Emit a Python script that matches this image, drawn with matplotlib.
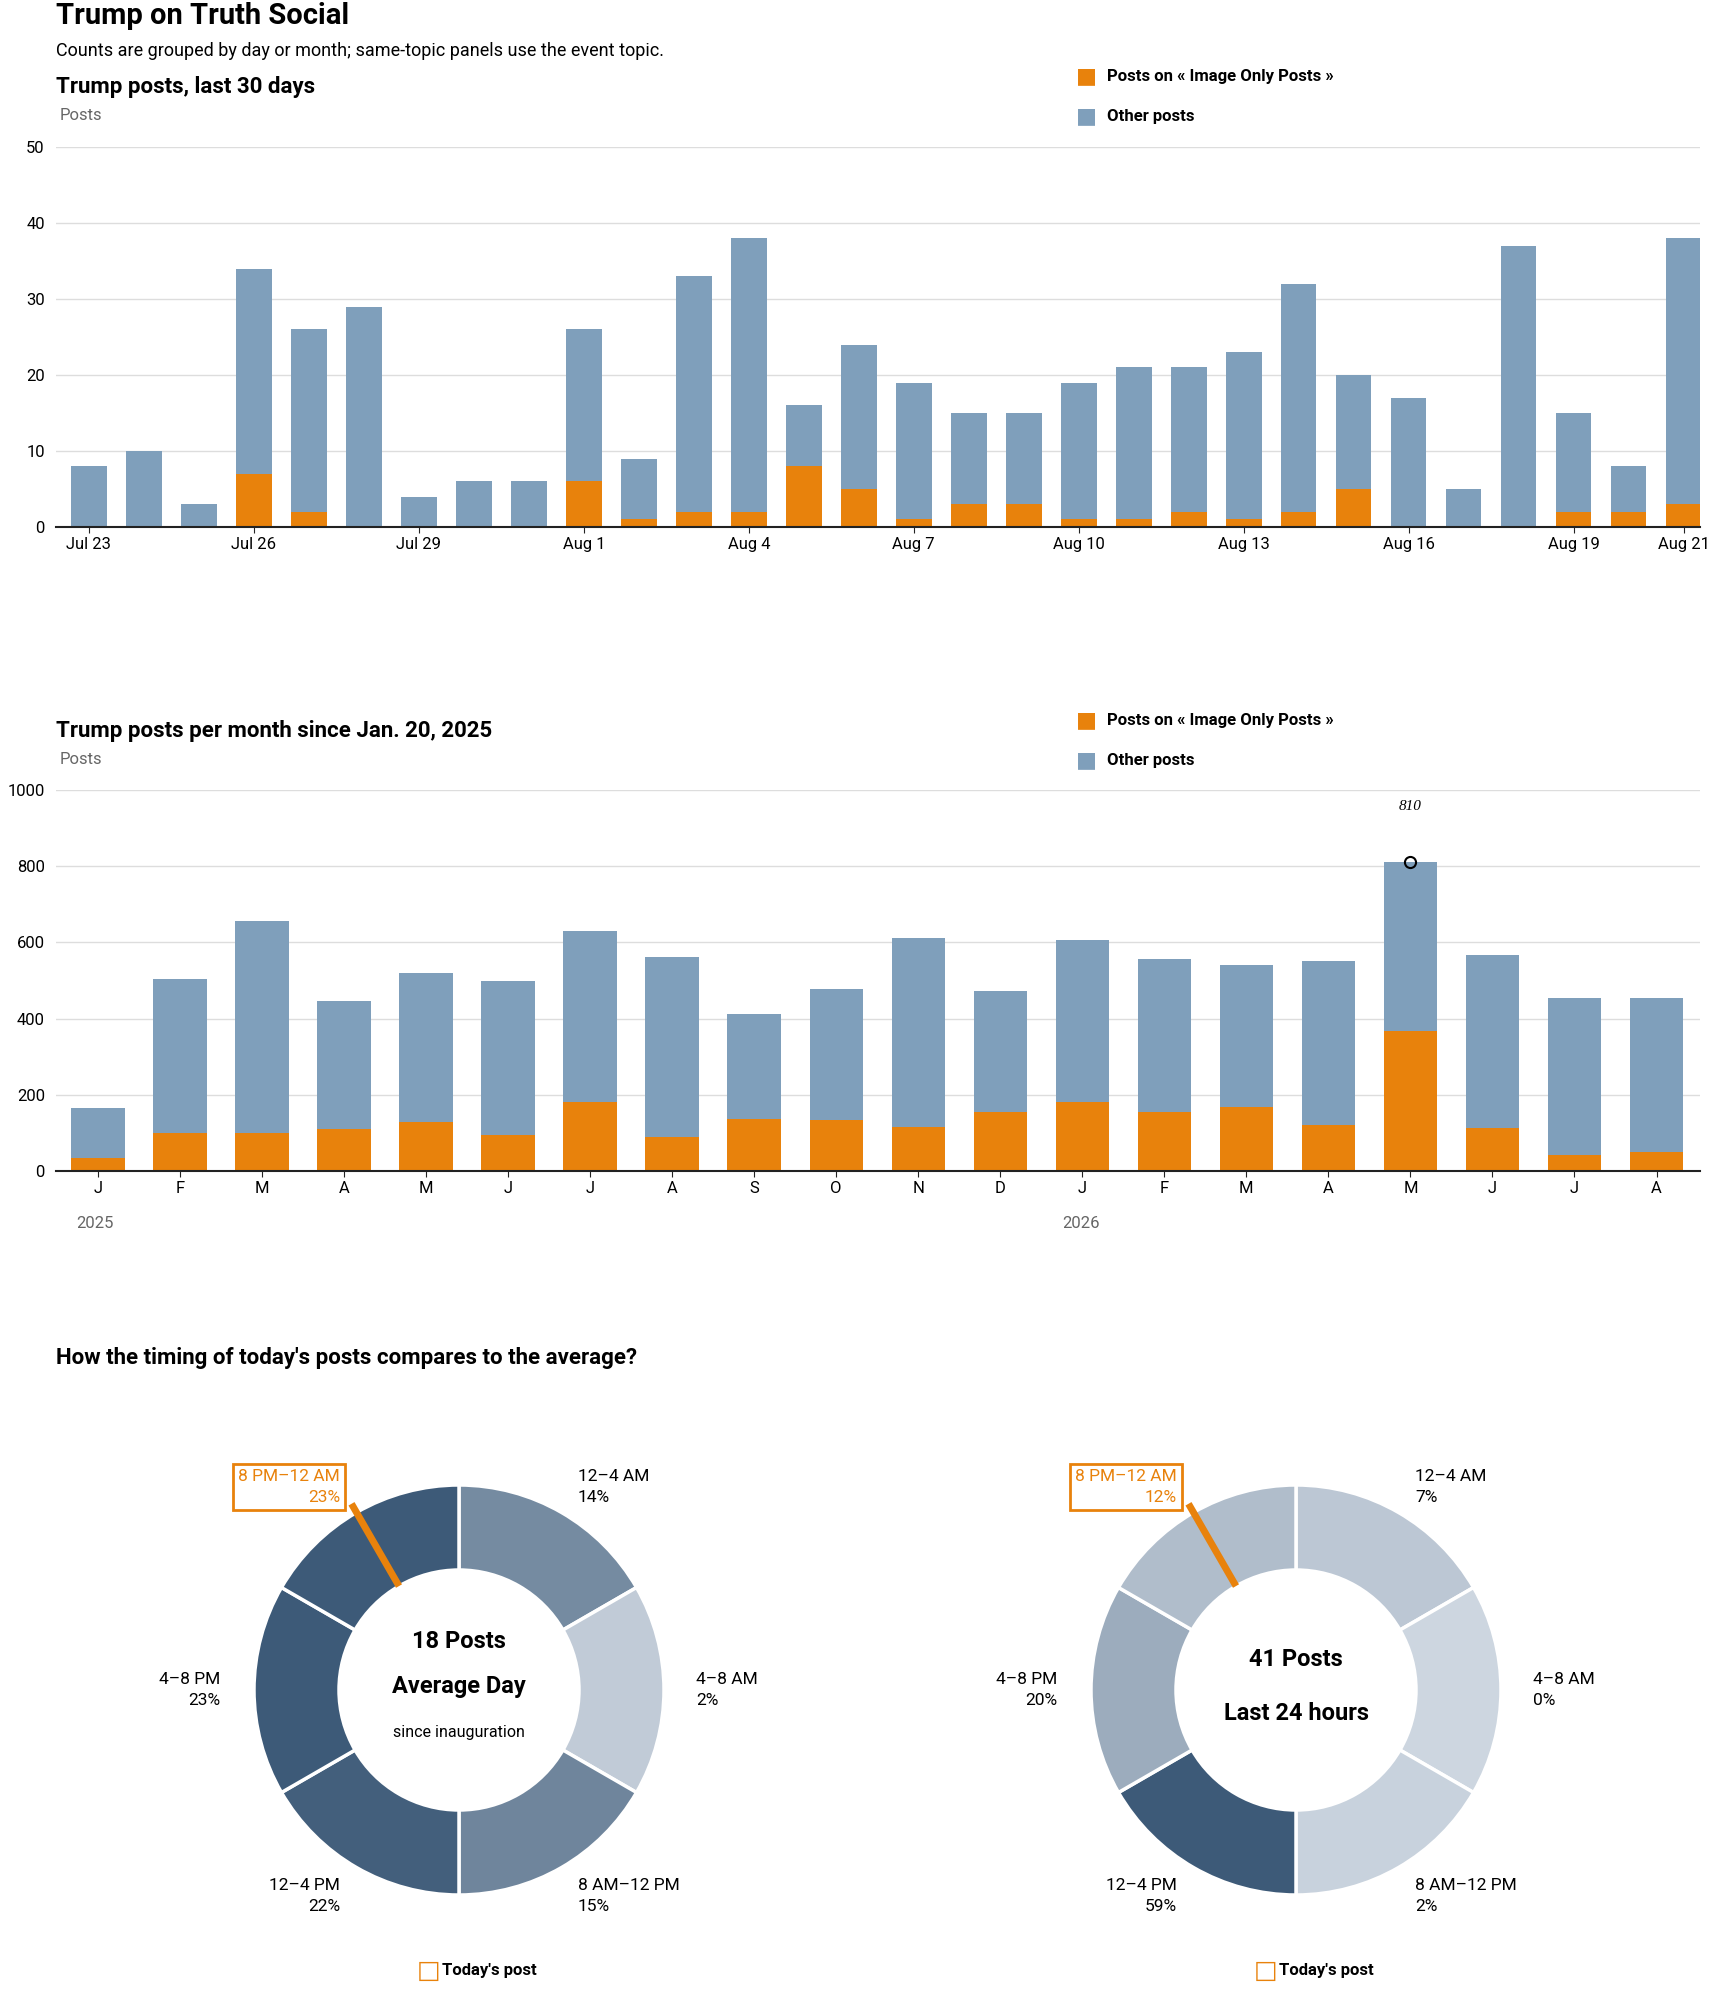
import numpy as np
import matplotlib
matplotlib.use("Agg")
import matplotlib.pyplot as plt
from matplotlib.colors import LinearSegmentedColormap

ORANGE = "#e8820c"
BLUE = "#7f9fbb"
W, H = 1710, 1993

# last 30 days
day_labels = ["Jul 23", "Jul 24", "Jul 25", "Jul 26", "Jul 27", "Jul 28", "Jul 29", "Jul 30", "Jul 31",
              "Aug 1", "Aug 2", "Aug 3", "Aug 4", "Aug 5", "Aug 6", "Aug 7", "Aug 8", "Aug 9", "Aug 10",
              "Aug 11", "Aug 12", "Aug 13", "Aug 14", "Aug 15", "Aug 16", "Aug 17", "Aug 18", "Aug 19",
              "Aug 20", "Aug 21"]
day_total = [8, 10, 3, 34, 26, 29, 4, 6, 6, 26, 9, 33, 38, 16, 24, 19, 15, 15, 19, 21, 21, 23, 32, 20,
             17, 5, 37, 15, 8, 38]
day_topic = [0, 0, 0, 7, 2, 0, 0, 0, 0, 6, 1, 2, 2, 8, 5, 1, 3, 3, 1, 1, 2, 1, 2, 5, 0, 0, 0, 2, 2, 3]
day_ticks = [0, 3, 6, 9, 12, 15, 18, 21, 24, 27, 29]

# per month
month_labels = ["J", "F", "M", "A", "M", "J", "J", "A", "S", "O", "N", "D",
                "J", "F", "M", "A", "M", "J", "J", "A"]
month_total = [165, 505, 655, 447, 520, 500, 630, 562, 413, 478, 612, 472,
               606, 557, 540, 550, 810, 567, 453, 453]
month_topic = [35, 100, 100, 110, 128, 95, 180, 88, 137, 133, 115, 155,
               180, 155, 167, 120, 367, 112, 42, 50]

# time of day
slots = ["12–4 AM", "4–8 AM", "8 AM–12 PM", "12–4 PM", "4–8 PM", "8 PM–12 AM"]
avg_pct = [14, 2, 15, 22, 23, 23]
today_pct = [7, 0, 2, 59, 20, 12]

plt.rcParams['font.family'] = ['Roboto', 'DejaVu Sans']
fig = plt.figure(figsize=(W / 100, H / 100), dpi=100)


def ft(x, y, s, **kw):
    fig.text(x / W, 1 - y / H, s, **kw)


def style(ax):
    for s in ["top", "right", "left"]:
        ax.spines[s].set_visible(False)
    ax.spines["bottom"].set_color("#222222")
    ax.spines["bottom"].set_linewidth(1.5)
    ax.grid(axis="y", color="#dddddd", lw=1)
    ax.set_axisbelow(True)
    ax.tick_params(axis="y", length=0, labelsize=12, pad=8)
    ax.tick_params(axis="x", length=4, labelsize=12, color="#222222")


def legend(y):
    ft(1076, y, "■", fontsize=16, color=ORANGE, va="center")
    ft(1107, y, "Posts on « Image Only Posts »", fontsize=12, weight="bold", va="center")
    ft(1076, y + 40, "■", fontsize=16, color=BLUE, va="center")
    ft(1107, y + 40, "Other posts", fontsize=12, weight="bold", va="center")


ft(56, 16, "Trump on Truth Social", fontsize=21, weight="bold", va="center")
ft(56, 51, "Counts are grouped by day or month; same-topic panels use the event topic.",
   fontsize=13, va="center")

# daily chart
ax1 = fig.add_axes([56 / W, 1 - 527 / H, 1644 / W, 380 / H])
x = np.arange(len(day_total))
ax1.bar(x, day_total, width=0.65, color=BLUE)
ax1.bar(x, day_topic, width=0.65, color=ORANGE)
ax1.set_xlim(-0.6, 29.3)
ax1.set_ylim(0, 50)
ax1.set_yticks(range(0, 51, 10))
ax1.set_xticks(day_ticks)
ax1.set_xticklabels([day_labels[i] for i in day_ticks])
style(ax1)
ft(56, 87, "Trump posts, last 30 days", fontsize=16, weight="bold", va="center")
ft(60, 115, "Posts", fontsize=12, color="#666666", va="center")
legend(77)

# monthly chart
ax2 = fig.add_axes([56 / W, 1 - 1171 / H, 1644 / W, 381 / H])
m = np.arange(len(month_total))
ax2.bar(m, month_total, width=0.65, color=BLUE)
ax2.bar(m, month_topic, width=0.65, color=ORANGE)
ax2.set_xlim(-0.51, 19.53)
ax2.set_ylim(0, 1000)
ax2.set_yticks(range(0, 1001, 200))
ax2.set_xticks(m)
ax2.set_xticklabels(month_labels)
style(ax2)
imax = int(np.argmax(month_total))
ax2.plot(imax, month_total[imax], "o", mfc="none", mec="black", mew=1.5, ms=8)
ax2.annotate(str(month_total[imax]), (imax, month_total[imax]), xytext=(0, 38),
             textcoords="offset points", ha="center", fontsize=11, style="italic",
             family="Liberation Serif")
ft(56, 731, "Trump posts per month since Jan. 20, 2025", fontsize=16, weight="bold", va="center")
ft(60, 759, "Posts", fontsize=12, color="#666666", va="center")
ft(76, 1223, "2025", fontsize=12, color="#666666", va="center")
ft(1062, 1223, "2026", fontsize=12, color="#666666", va="center")
legend(721)

# donuts
ft(56, 1358, "How the timing of today's posts compares to the average?", fontsize=16,
   weight="bold", va="center")
ax3 = fig.add_axes([0, 0, 1, 1])
ax3.set_xlim(0, W)
ax3.set_ylim(0, H)
ax3.set_aspect("equal")
ax3.axis("off")
cmap = LinearSegmentedColormap.from_list("b", ["#cdd6e0", "#3d5a78"])
R, r_in = 205, 120


def donut(cx, cy, pct, lines):
    vals = np.array(pct, float)
    cols = [cmap(v / vals.max()) for v in vals]
    ax3.pie([1] * 6, colors=cols, center=(cx, H - cy), radius=R, startangle=90,
            counterclock=False, wedgeprops=dict(width=R - r_in, edgecolor="white", linewidth=2.5),
            frame=True)
    a = np.deg2rad(330)
    p0 = (cx + r_in * np.sin(a), H - cy + r_in * np.cos(a))
    p1 = (cx + 215 * np.sin(a), H - cy + 215 * np.cos(a))
    ax3.plot([p0[0], p1[0]], [p0[1], p1[1]], color=ORANGE, lw=5, solid_capstyle="butt")
    lab = [(cx + 119, cy - 203, "left"), (cx + 237, cy, "left"), (cx + 119, cy + 206, "left"),
           (cx - 119, cy + 206, "right"), (cx - 239, cy, "right")]
    for (lx, ly, ha), s, p in zip(lab, slots, pct):
        ft(lx, ly, f"{s}\n{p}%", fontsize=12.5, ha=ha, va="center", linespacing=1.5)
    ft(cx - 119, cy - 203, f"{slots[5]}\n{pct[5]}%", fontsize=12.5, ha="right", va="center",
       color=ORANGE, linespacing=1.5,
       bbox=dict(boxstyle="square,pad=0.3", fc="white", ec=ORANGE, lw=2))
    for ly, s, fs, wt in lines:
        ft(cx, ly, s, fontsize=fs, weight=wt, ha="center", va="center")
    ft(cx - 42, 1971, "□", fontsize=18, color=ORANGE, weight="bold", va="center")
    ft(cx - 17, 1971, "Today's post", fontsize=12, weight="bold", va="center")


donut(459, 1690, avg_pct, [(1641, "18 Posts", 17, "bold"), (1686, "Average Day", 17, "bold"),
                           (1733, "since inauguration", 11.5, "normal")])
donut(1296, 1690, today_pct, [(1660, "41 Posts", 17, "bold"), (1713, "Last 24 hours", 17, "bold")])

fig.savefig("out.png", dpi=100)
